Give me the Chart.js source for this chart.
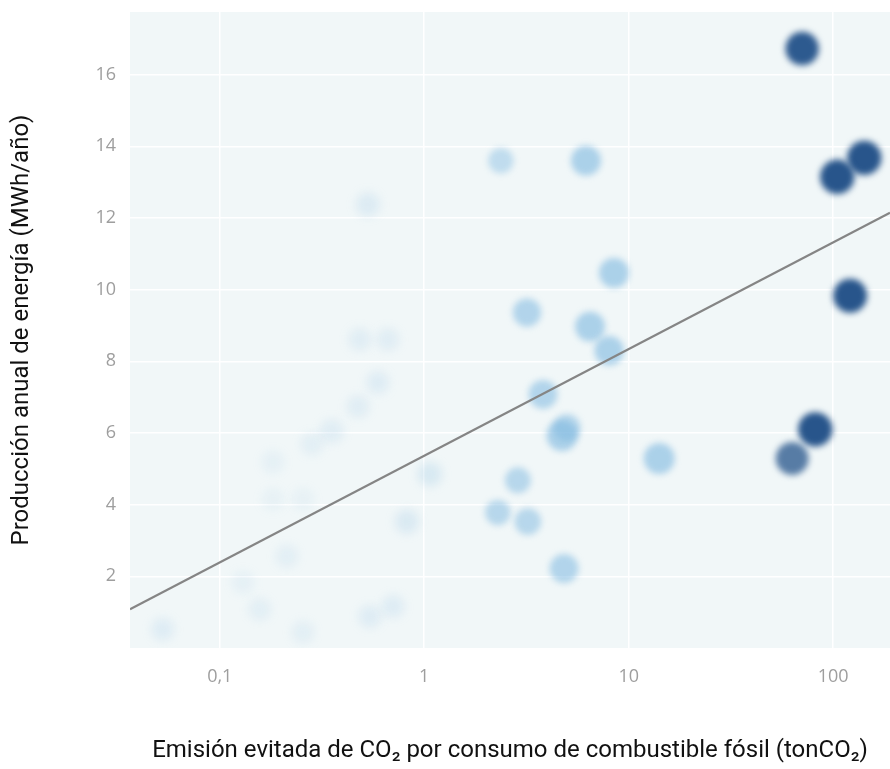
<!DOCTYPE html>
<html>
<head>
  <title>Producción anual vs emisión evitada</title>
  <script src="https://cdn.jsdelivr.net/npm/chart.js"></script>
  <style>
    body { margin: 0; background: white; }
    #wrap { width: 890px; height: 769px; }
  </style>
</head>
<body>
  <div id="wrap"><canvas id="chart"></canvas></div>
  <script>
    // low-intensity group (very pale bubbles)
    const lowX = [0.53, 0.484, 0.664, 0.593, 0.474, 0.353, 0.282, 0.182, 0.182, 0.255, 0.213, 0.130, 0.157, 0.0526, 0.255, 0.542, 0.703, 1.066, 0.823];
    const lowY = [12.38, 8.61, 8.61, 7.41, 6.74, 6.05, 5.69, 5.19, 4.15, 4.15, 2.56, 1.83, 1.08, 0.52, 0.44, 0.88, 1.16, 4.85, 3.53];
    const lowSize = [9, 8, 8, 8, 8, 9, 8, 8, 8, 8, 8, 8, 8, 8, 8, 8, 8, 9, 9];
    const lowShade = [0.22, 0.18, 0.18, 0.2, 0.18, 0.18, 0.15, 0.12, 0.1, 0.1, 0.15, 0.12, 0.15, 0.2, 0.15, 0.2, 0.2, 0.28, 0.25];

    // medium group
    const midX = [6.18, 2.37, 8.47, 3.18, 6.47, 8.02, 3.81, 4.72, 4.99, 14.1, 2.87, 2.29, 3.21, 4.83];
    const midY = [13.6, 13.6, 10.47, 9.36, 8.97, 8.30, 7.08, 5.93, 6.15, 5.29, 4.68, 3.78, 3.53, 2.22];
    const midSize = [14, 10, 14, 12.5, 14, 13.5, 13, 15, 11.5, 15, 10.5, 10, 11, 13];
    const midShade = [0.6, 0.42, 0.6, 0.55, 0.6, 0.6, 0.55, 0.6, 0.5, 0.6, 0.5, 0.5, 0.5, 0.55];

    // high group (dark bubbles)
    const highX = [70.5, 141.9, 104.7, 121, 81.7, 63];
    const highY = [16.73, 13.68, 13.15, 9.83, 6.10, 5.29];
    const highSize = [17.5, 18.5, 18.5, 18, 18.5, 17];
    const highShade = [0.92, 0.95, 0.95, 0.95, 0.95, 0.72];

    // trend line end points (at the axis limits)
    const trendX = [0.0364, 189.6];
    const trendY = [1.08, 12.15];

    const xMin = 0.0364, xMax = 189.6;
    const yMin = 0, yMax = 17.75;
    const xTicks = [0.1, 1, 10, 100];
    const xTickLabels = ["0,1", "1", "10", "100"];
    const yTicks = [2, 4, 6, 8, 10, 12, 14, 16];

    const xTitle = "Emisión evitada de CO₂ por consumo de combustible fósil (tonCO₂)";
    const yTitle = "Producción anual de energía (MWh/año)";

    function points(xs, ys) {
      return xs.map((x, i) => ({ x: x, y: ys[i] }));
    }

    function radiusFrom(sizes) {
      return ctx => 4 * Math.sqrt(sizes[ctx.dataIndex]);
    }

    function colorFrom(rgb, shades) {
      return ctx => `rgba(${rgb}, ${shades[ctx.dataIndex]})`;
    }

    // soft edges on the bubbles
    const blurPlugin = {
      id: "blurPoints",
      beforeDatasetDraw(chart, args) {
        const b = chart.data.datasets[args.index].blur;
        if (b) chart.ctx.filter = `blur(${b}px)`;
      },
      afterDatasetDraw(chart) {
        chart.ctx.filter = "none";
      }
    };

    const plotBg = {
      id: "plotBg",
      beforeDraw(chart) {
        const { ctx, chartArea: a } = chart;
        ctx.save();
        ctx.fillStyle = "#f1f7f8";
        ctx.fillRect(a.left, a.top, a.right - a.left, a.bottom - a.top);
        ctx.restore();
      }
    };

    // no extra room for edge labels, the plot fills the canvas
    function noPadding(scale) {
      scale.paddingTop = 0;
      scale.paddingBottom = 0;
      scale.paddingLeft = 0;
      scale.paddingRight = 0;
    }

    new Chart(document.getElementById("chart"), {
      type: "scatter",
      data: {
        datasets: [
          {
            type: "line",
            data: points(trendX, trendY),
            borderColor: "#858585",
            borderWidth: 2.2,
            pointRadius: 0,
            fill: false
          },
          {
            data: points(highX, highY),
            backgroundColor: colorFrom("28, 76, 133", highShade),
            borderWidth: 0,
            pointRadius: radiusFrom(highSize),
            blur: 3
          },
          {
            data: points(midX, midY),
            backgroundColor: colorFrom("125, 184, 224", midShade),
            borderWidth: 0,
            pointRadius: radiusFrom(midSize),
            blur: 3
          },
          {
            data: points(lowX, lowY),
            backgroundColor: colorFrom("150, 196, 228", lowShade),
            borderWidth: 0,
            pointRadius: radiusFrom(lowSize),
            blur: 5
          }
        ]
      },
      options: {
        responsive: true,
        maintainAspectRatio: false,
        animation: false,
        layout: { autoPadding: false, padding: { top: 12, right: 0 } },
        plugins: {
          legend: { display: false },
          tooltip: { enabled: false }
        },
        scales: {
          x: {
            type: "logarithmic",
            min: xMin,
            max: xMax,
            afterBuildTicks: scale => { scale.ticks = xTicks.map(v => ({ value: v })); },
            afterFit: scale => { scale.height = 121; noPadding(scale); },
            ticks: {
              padding: 18,
              color: "#9e9e9e",
              font: { family: "Open Sans", size: 18 },
              callback: (v, i) => xTickLabels[i]
            },
            grid: { color: "#ffffff", lineWidth: 1.5, drawTicks: false },
            border: { display: false },
            title: {
              display: true,
              text: xTitle,
              color: "#111",
              font: { family: "Roboto", size: 24 },
              padding: { bottom: 4 }
            }
          },
          y: {
            min: yMin,
            max: yMax,
            afterBuildTicks: scale => { scale.ticks = yTicks.map(v => ({ value: v })); },
            afterFit: scale => { scale.width = 130; noPadding(scale); },
            ticks: {
              padding: 14,
              color: "#9e9e9e",
              font: { family: "Open Sans", size: 18 }
            },
            grid: { color: "#ffffff", lineWidth: 1.5, drawTicks: false },
            border: { display: false },
            title: {
              display: true,
              text: yTitle,
              color: "#111",
              font: { family: "Roboto", size: 24 },
              padding: { top: 8 }
            }
          }
        }
      },
      plugins: [plotBg, blurPlugin]
    });
  </script>
</body>
</html>
